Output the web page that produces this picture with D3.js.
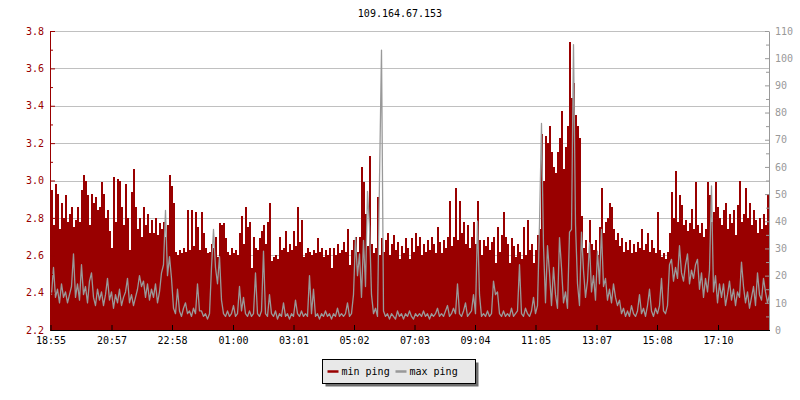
<!DOCTYPE html>
<html><head><meta charset="utf-8">
<script src="https://cdn.jsdelivr.net/npm/d3@7"></script>
<style>
body{margin:0;background:#fff}
svg{display:block}
text{font-family:"DejaVu Sans Mono",monospace;font-size:10px}
</style>
</head><body>
<svg id="chart" width="800" height="400"></svg>
<script>
const title = "109.164.67.153";
const seriesNames = ["min ping", "max ping"];
const stepMinutes = 4;
const tickLabels = ["18:55","20:57","22:58","01:00","03:01","05:02","07:03","09:04","11:05","13:07","15:08","17:10"];
const leftMajor = [2.2,2.4,2.6,2.8,3.0,3.2,3.4,3.6,3.8];
const leftMinor = [2.3,2.5,2.7,2.9,3.1,3.3,3.5,3.7];
const rightMajor = [0,10,20,30,40,50,60,70,80,90,100,110];
const rightMinor = [5,15,25,35,45,55,65,75,85,95,105];

const minPing = [
2.95,2.76,2.98,2.93,2.74,2.88,2.80,2.92,2.78,2.82,2.86,2.75,2.79,2.86,2.78,
2.95,3.03,3.00,2.92,2.76,2.93,2.88,2.91,2.84,2.86,2.99,
2.93,2.80,2.84,2.73,2.64,3.02,2.78,3.01,3.00,2.86,2.76,2.98,2.80,2.63,
2.94,3.06,2.86,2.74,2.80,2.70,2.86,2.76,2.82,2.72,
2.79,2.72,2.80,2.71,2.77,2.74,2.78,2.70,2.76,3.03,2.97,2.88,2.62,2.60,2.63,
2.61,2.64,2.62,2.84,2.63,2.84,2.65,2.83,2.75,2.63,
2.83,2.72,2.64,2.61,2.62,2.66,2.64,2.70,2.59,2.77,2.76,2.77,2.69,2.62,2.60,
2.64,2.61,2.63,2.60,2.72,2.81,2.66,2.86,2.75,2.78,2.53,2.70,2.64,2.63,2.69,
2.73,2.76,2.66,2.78,2.88,2.57,2.59,2.60,2.58,2.70,2.63,2.64,2.73,2.62,2.66,
2.63,2.73,2.65,2.86,2.67,2.79,2.59,2.61,2.64,2.62,2.60,2.63,2.61,2.69,2.62,
2.64,2.59,2.63,2.60,2.64,2.53,2.64,2.60,2.66,2.61,2.63,2.67,2.62,2.74,2.55,
2.63,2.68,2.70,2.62,2.70,3.07,2.99,2.82,2.65,3.13,2.66,2.61,2.64,2.91,2.60,
2.69,2.62,2.68,2.72,2.60,2.66,2.71,2.63,2.67,2.58,2.65,2.61,2.69,2.64,2.58,
2.69,2.62,2.72,2.65,2.70,2.60,2.66,2.62,2.68,2.63,2.70,2.66,2.61,2.75,2.67,
2.61,2.68,2.64,2.70,2.89,2.65,2.70,2.96,2.68,2.89,2.72,2.78,2.66,2.76,2.64,
2.70,2.78,2.66,2.89,2.68,
2.60,2.68,2.65,2.70,2.63,2.67,2.70,2.56,2.75,2.62,2.71,2.83,2.70,2.66,2.56,
2.69,2.65,2.59,2.66,2.62,2.58,2.75,2.60,2.79,2.63,2.66,2.56,2.63,2.71,2.74,
3.25,3.00,3.24,3.20,3.29,3.15,3.07,3.04,3.15,3.23,3.37,3.06,3.18,3.29,3.74,
3.44,3.52,3.35,3.29,3.23,2.81,
2.64,2.68,2.61,2.79,2.66,2.63,2.68,2.60,2.75,
2.96,2.72,2.78,2.80,2.88,2.86,2.74,2.68,2.72,2.65,2.69,2.62,2.67,2.63,2.68,
2.61,2.66,2.62,2.67,2.64,2.74,2.63,2.66,2.72,2.62,2.68,2.64,2.61,2.83,2.63,
2.59,2.61,2.58,2.62,2.72,2.94,2.80,3.05,2.78,2.92,2.87,2.76,2.79,2.73,2.77,
2.85,2.74,2.99,2.76,2.72,2.77,2.70,2.74,2.99,2.92,2.78,2.83,2.99,2.86,2.80,
2.76,2.84,2.88,2.74,2.82,2.77,2.84,2.71,2.87,3.00,2.78,2.82,2.96,2.80,2.88,
2.76,2.84,2.79,2.72,2.80,2.74,2.82,2.76,2.93,2.80
];

const maxPing = [
13,23,12,15,10,17,12,14,10,13,16,28,12,17,11,
24,13,16,10,18,21,12,9,15,11,14,
9,13,19,11,14,8,13,10,15,9,12,14,19,10,
13,9,12,15,20,16,18,12,17,11,
15,12,17,10,14,21,24,44,20,27,19,8,6,15,7,
5,8,10,6,7,5,8,6,17,7,
7,5,6,4,6,23,37,23,17,27,11,6,5,7,5,
6,9,5,6,16,7,12,6,5,7,5,6,21,6,5,
7,29,6,5,13,6,5,7,4,6,5,10,5,6,4,
6,5,11,6,5,7,5,6,5,20,6,15,5,6,4,
6,5,7,5,6,4,6,5,8,5,6,5,6,10,5,
6,13,34,20,28,12,33,16,51,38,13,6,8,5,55,
103,7,5,6,4,6,5,4,7,5,6,4,6,5,7,
5,4,6,5,6,5,7,5,6,4,6,5,6,8,5,
6,5,7,9,5,6,8,6,17,6,5,7,10,5,6,
7,13,6,40,13,
5,6,5,7,5,6,18,13,14,6,5,7,5,6,5,
8,5,6,7,24,6,5,8,6,5,7,12,6,9,39,
76,31,10,31,21,9,23,13,8,34,23,10,14,8,36,
37,105,39,17,9,36,
22,12,18,32,14,20,11,29,17,
37,16,19,11,15,10,17,12,9,11,6,8,5,7,5,
9,6,5,7,13,6,8,5,9,15,7,5,8,6,9,
19,7,6,9,24,26,18,23,19,31,21,18,24,28,17,
22,19,24,26,15,21,12,19,14,22,53,14,20,10,17,
12,17,9,13,18,11,15,9,14,12,25,16,10,14,8,
12,16,9,21,13,11,19,14,10,13
];

const RED = "#990000", GRAY = "#999999";
const svg = d3.select("#chart");
svg.append("rect").attr("width",800).attr("height",400).attr("fill","#fff");

const t0 = new Date(2020,0,1,18,55);
const tEnd = new Date(t0.getTime() + 1440*60000);
const x = d3.scaleTime().domain([t0, tEnd]).range([50.5, 770.5]);
const y = d3.scaleLinear().domain([2.2, 3.8]).range([330, 31]);
const y2 = d3.scaleLinear().domain([0, 110]).range([330, 31]);

const tickDates = tickLabels.map(s => {
  const [h, mm] = s.split(":").map(Number);
  let mins = h*60 + mm - (18*60 + 55);
  if (mins < 0) mins += 1440;
  return new Date(t0.getTime() + mins*60000);
});

const n = Math.min(minPing.length, maxPing.length);
const pts = d3.range(n).map(i => ({t: new Date(t0.getTime() + i*stepMinutes*60000), v: minPing[i], m: maxPing[i]}));
const ptsArea = pts.concat([{t: new Date(t0.getTime() + n*stepMinutes*60000), v: minPing[n-1], m: maxPing[n-1]}]);
const half = stepMinutes*30000;

svg.append("defs").append("clipPath").attr("id","clip")
  .append("rect").attr("x",51).attr("y",20).attr("width",718.5).attr("height",310);

// grid
svg.append("g").selectAll("line").data(leftMajor.slice(1)).join("line")
  .attr("x1",51).attr("x2",769).attr("y1",d=>Math.round(y(d))+0.5).attr("y2",d=>Math.round(y(d))+0.5)
  .attr("stroke","#c0c0c0").attr("stroke-width",1).attr("shape-rendering","crispEdges");

const plot = svg.append("g").attr("clip-path","url(#clip)");
plot.append("path").datum(ptsArea)
  .attr("d", d3.area().curve(d3.curveStepAfter).x(d=>x(d.t)).y0(y(2.2)).y1(d=>y(d.v)))
  .attr("fill", RED).attr("shape-rendering","crispEdges");
plot.append("path").datum(pts)
  .attr("d", d3.line().x(d=>x(new Date(d.t.getTime()+half))).y(d=>y2(d.m)))
  .attr("fill","none").attr("stroke", GRAY).attr("stroke-width",1.3).attr("stroke-linejoin","round");

// left axis
const gL = svg.append("g").attr("transform","translate(50,0)");
gL.call(d3.axisLeft(y).tickValues(leftMajor).tickSize(-5).tickSizeOuter(0).tickPadding(6).tickFormat(d3.format(".1f")));
gL.append("g").call(d3.axisLeft(y).tickValues(leftMinor).tickSize(-3).tickSizeOuter(0).tickFormat(""))
  .select(".domain").remove();
gL.selectAll("line,path").attr("stroke", RED);
gL.selectAll("text").attr("fill", RED).style("font-size","10px").style("font-family","DejaVu Sans Mono, monospace");

// right axis
const gR = svg.append("g").attr("transform","translate(769,0)");
gR.call(d3.axisRight(y2).tickValues(rightMajor).tickSize(-4).tickSizeOuter(0).tickPadding(6).tickFormat(d3.format("d")));
gR.append("g").call(d3.axisRight(y2).tickValues(rightMinor).tickSize(-3).tickSizeOuter(0).tickFormat(""))
  .select(".domain").remove();
gR.selectAll("line,path").attr("stroke", GRAY);
gR.selectAll("text").attr("fill", GRAY).style("font-size","10px").style("font-family","DejaVu Sans Mono, monospace");

// bottom axis
const gB = svg.append("g").attr("transform","translate(0,330)");
gB.call(d3.axisBottom(x).tickValues(tickDates).tickSize(-5).tickSizeOuter(0).tickPadding(7).tickFormat(d3.timeFormat("%H:%M")));
gB.select(".domain").attr("d","M50.5,0.5H770");
gB.selectAll("line,path").attr("stroke","#000");
gB.selectAll("text").attr("fill","#000").style("font-size","10px").style("font-family","DejaVu Sans Mono, monospace");

// title
svg.append("text").attr("x",400).attr("y",17).attr("text-anchor","middle").attr("fill","#000").text(title);

// legend
const lg = svg.append("g").attr("transform","translate(322.5,359.5)");
lg.append("rect").attr("x",3).attr("y",3).attr("width",153).attr("height",24).attr("fill","#6e6e6e");
lg.append("rect").attr("width",153).attr("height",24).attr("fill","#e8e8e8").attr("stroke","#000");
const colors = [RED, GRAY];
const offs = [0, 68];
seriesNames.forEach((name,i) => {
  lg.append("line").attr("x1",5+offs[i]).attr("x2",16+offs[i]).attr("y1",12).attr("y2",12)
    .attr("stroke",colors[i]).attr("stroke-width",2.5);
  lg.append("text").attr("x",19+offs[i]).attr("y",15.5).attr("fill","#000").text(name);
});
</script>
</body></html>
